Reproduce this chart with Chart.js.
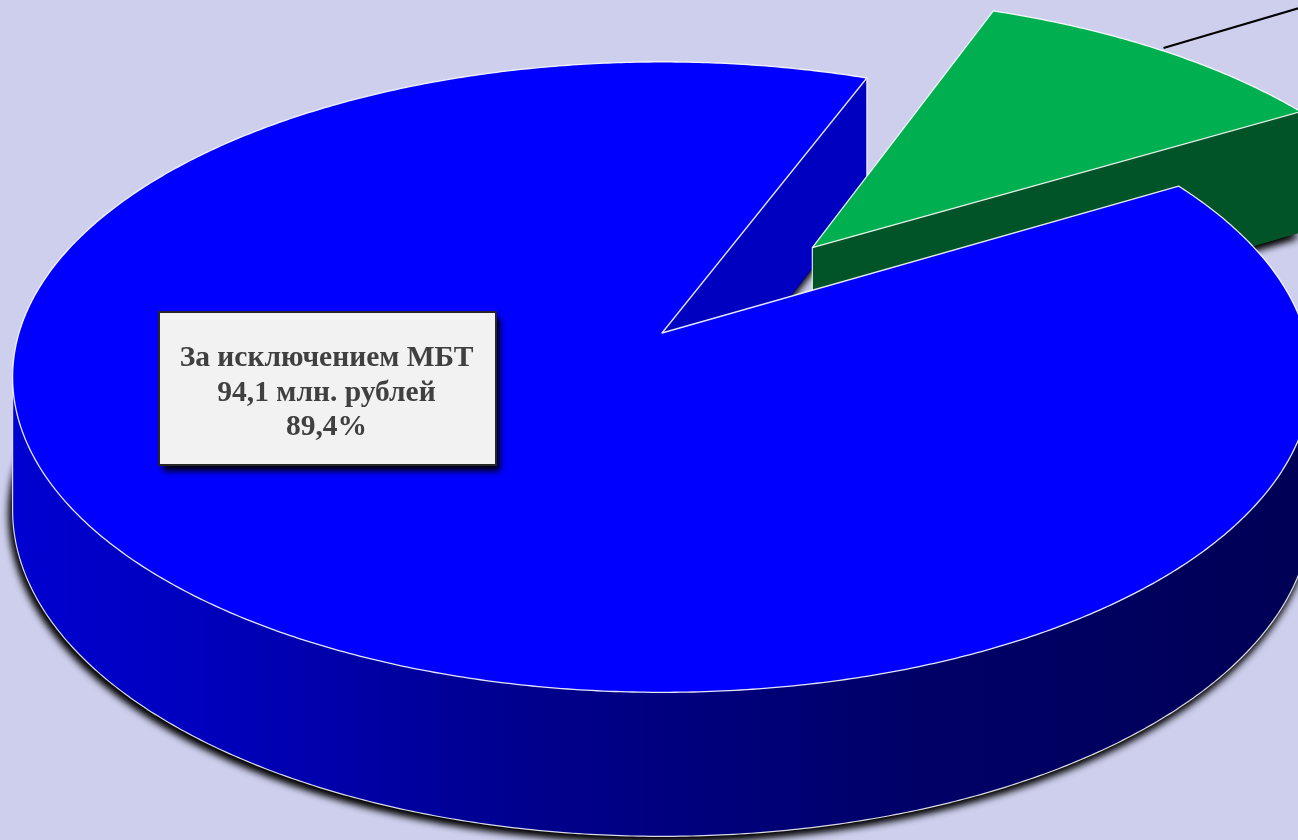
<!DOCTYPE html>
<html lang="ru">
<head>
<meta charset="utf-8">
<title>МБТ</title>
<script src="https://cdn.jsdelivr.net/npm/chart.js@4.4.1/dist/chart.umd.min.js"></script>
<style>
  html, body { margin: 0; padding: 0; background: #cdcfed; overflow: hidden; }
  canvas { display: block; }
</style>
</head>
<body>
<canvas id="pieChart" width="1298" height="840"></canvas>
<script>
// ==== ДАННЫЕ ====
const labels = ["За исключением МБТ", "МБТ"];
const values = [94.1, 11.2]; // млн. рублей
const unit = "млн. рублей";

// ==== ПАРАМЕТРЫ 3D ====
const TILT = 0.4806;   // сжатие по вертикали
const PERSP = 0.14;    // перспектива (дальняя часть меньше)
const DEPTH = 131;     // толщина диска, px
const DEPTH_Z = 13;
const LAYERS = 160;
const STEP = 0.008;

const SIDE = ["rim", "#005428"];
const CUT = ["#0000c0", "#005428"];

function fmt(num, d) {
  return num.toFixed(d).replace(".", ",");
}

// точка плоскости (px, pz в долях радиуса) -> экран
function proj(c, px, pz, h) {
  const den = 1 - PERSP * pz;
  return [
    c.x + (c.r * px) / den,
    c.y + (TILT * c.r * pz) / den + h * (DEPTH + DEPTH_Z * pz),
  ];
}

function geom(arc) {
  const off = (arc.options.offset || 0) / arc.outerRadius;
  const mid = (arc.startAngle + arc.endAngle) / 2;
  return {
    c: { x: arc.x, y: arc.y, r: arc.outerRadius },
    ox: Math.cos(mid) * off,
    oz: Math.sin(mid) * off,
    a0: arc.startAngle,
    a1: arc.endAngle,
  };
}

function rimPoint(g, a, h) {
  return proj(g.c, g.ox + Math.cos(a), g.oz + Math.sin(a), h);
}

function sectorPath(ctx, g, h) {
  ctx.beginPath();
  const p = proj(g.c, g.ox, g.oz, h);
  ctx.moveTo(p[0], p[1]);
  const n = Math.ceil((g.a1 - g.a0) / STEP);
  for (let i = 0; i <= n; i++) {
    const q = rimPoint(g, g.a0 + ((g.a1 - g.a0) * i) / n, h);
    ctx.lineTo(q[0], q[1]);
  }
  ctx.closePath();
}

function rimStroke(ctx, g, from, to, h) {
  const n = Math.max(1, Math.ceil((to - from) / STEP));
  ctx.beginPath();
  for (let i = 0; i <= n; i++) {
    const q = rimPoint(g, from + ((to - from) * i) / n, h);
    if (i === 0) ctx.moveTo(q[0], q[1]);
    else ctx.lineTo(q[0], q[1]);
  }
  ctx.stroke();
}

function edge(ctx, p, q) {
  ctx.beginPath();
  ctx.moveTo(p[0], p[1]);
  ctx.lineTo(q[0], q[1]);
  ctx.stroke();
}

function cutFace(ctx, g, a) {
  const p0 = proj(g.c, g.ox, g.oz, 0);
  const p1 = rimPoint(g, a, 0);
  const p2 = rimPoint(g, a, 1);
  const p3 = proj(g.c, g.ox, g.oz, 1);
  ctx.beginPath();
  ctx.moveTo(p0[0], p0[1]);
  ctx.lineTo(p1[0], p1[1]);
  ctx.lineTo(p2[0], p2[1]);
  ctx.lineTo(p3[0], p3[1]);
  ctx.closePath();
  ctx.fill();
}

function sideStyle(ctx, i, width) {
  if (SIDE[i] !== "rim") return SIDE[i];
  const gr = ctx.createLinearGradient(0, 0, width, 0);
  gr.addColorStop(0, "#0000d2");
  gr.addColorStop(0.15, "#0000be");
  gr.addColorStop(0.4, "#00008e");
  gr.addColorStop(0.7, "#000068");
  gr.addColorStop(1, "#000056");
  return gr;
}

// видимая (передняя) часть обода, угол по модулю 2π
function frontRange(g) {
  const lo = Math.asin(PERSP), hi = Math.PI - Math.asin(PERSP);
  for (let k = -1; k <= 1; k++) {
    const a = Math.max(g.a0, lo + k * 2 * Math.PI);
    const b = Math.min(g.a1, hi + k * 2 * Math.PI);
    if (b > a) return [a, b, a === lo + k * 2 * Math.PI, b === hi + k * 2 * Math.PI];
  }
  return null;
}

// ==== 3D ПИРОГ ====
const pie3d = {
  id: "pie3d",
  beforeDatasetsDraw(chart) {
    const ctx = chart.ctx;
    const meta = chart.getDatasetMeta(0);
    const geoms = meta.data.map(geom);
    const colors = chart.data.datasets[0].backgroundColor;

    ctx.save();
    // тень под диском
    for (let s = 0; s < 2; s++) {
      ctx.save();
      ctx.shadowColor = "rgba(0,0,0,1)";
      ctx.shadowBlur = 9;
      ctx.shadowOffsetX = -2;
      ctx.shadowOffsetY = 4;
      geoms.forEach((g, i) => {
        ctx.fillStyle = sideStyle(ctx, i, chart.width);
        sectorPath(ctx, g, 1);
        ctx.fill();
      });
      ctx.restore();
    }

    // боковые стенки
    geoms.forEach((g, i) => {
      ctx.fillStyle = sideStyle(ctx, i, chart.width);
      for (let k = LAYERS; k >= 1; k--) {
        sectorPath(ctx, g, k / LAYERS);
        ctx.fill();
      }
      ctx.fillStyle = CUT[i];
      cutFace(ctx, g, g.a0);
      cutFace(ctx, g, g.a1);

      ctx.strokeStyle = "rgba(255,255,255,0.85)";
      ctx.lineWidth = 1.2;
      const fr = frontRange(g);
      if (fr) {
        rimStroke(ctx, g, fr[0], fr[1], 1);
        if (fr[2]) edge(ctx, rimPoint(g, fr[0], 0), rimPoint(g, fr[0], 1));
        if (fr[3]) edge(ctx, rimPoint(g, fr[1], 0), rimPoint(g, fr[1], 1));
      }
      [g.a0, g.a1].forEach((a) => edge(ctx, rimPoint(g, a, 0), rimPoint(g, a, 1)));
      edge(ctx, proj(g.c, g.ox, g.oz, 0), proj(g.c, g.ox, g.oz, 1));
    });

    // верхние грани
    geoms.forEach((g, i) => {
      ctx.fillStyle = colors[i];
      sectorPath(ctx, g, 0);
      ctx.fill();
      ctx.strokeStyle = "rgba(255,255,255,0.9)";
      ctx.lineWidth = 1.3;
      ctx.lineJoin = "round";
      ctx.stroke();
    });

    // выноска для МБТ (подпись за краем)
    const g = geoms[1];
    const m = rimPoint(g, (g.a0 + g.a1) / 2, 0);
    ctx.strokeStyle = "#000";
    ctx.lineWidth = 2;
    ctx.beginPath();
    ctx.moveTo(m[0] + 3, m[1] - 2);
    ctx.lineTo(m[0] + 203, m[1] - 61);
    ctx.stroke();
    ctx.restore();
    return false;
  },
  afterDraw(chart) {
    const ctx = chart.ctx;
    const total = values.reduce((s, v) => s + v, 0);
    const lines = [
      labels[0],
      fmt(values[0], 1) + " " + unit,
      fmt((values[0] / total) * 100, 1) + "%",
    ];
    const bx = 159, by = 312, bw = 337, bh = 153;
    ctx.save();
    ctx.shadowColor = "rgba(0,0,0,0.95)";
    ctx.shadowBlur = 6;
    ctx.shadowOffsetX = 4;
    ctx.shadowOffsetY = 6;
    ctx.fillStyle = "#f2f2f2";
    ctx.fillRect(bx, by, bw, bh);
    ctx.restore();
    ctx.save();
    ctx.strokeStyle = "#262626";
    ctx.lineWidth = 2;
    ctx.strokeRect(bx, by, bw, bh);
    ctx.fillStyle = "#404040";
    ctx.font = "bold 29.5px 'Liberation Serif', 'Times New Roman', serif";
    ctx.textAlign = "center";
    ctx.textBaseline = "alphabetic";
    lines.forEach((t, i) => ctx.fillText(t, bx + bw / 2 - 1, 366 + i * 34.5));
    ctx.restore();
  },
};

new Chart(document.getElementById("pieChart"), {
  type: "pie",
  data: {
    labels: labels,
    datasets: [
      {
        data: values,
        backgroundColor: ["#0000ff", "#00b050"],
        borderWidth: 0,
        offset: [0, 242],
      },
    ],
  },
  options: {
    responsive: false,
    animation: false,
    events: [],
    rotation: 59.4,
    radius: 643,
    layout: { padding: { left: 26, top: 0, right: 0, bottom: 174 } },
    plugins: {
      legend: { display: false },
      tooltip: { enabled: false },
    },
  },
  plugins: [pie3d],
});
</script>
</body>
</html>
